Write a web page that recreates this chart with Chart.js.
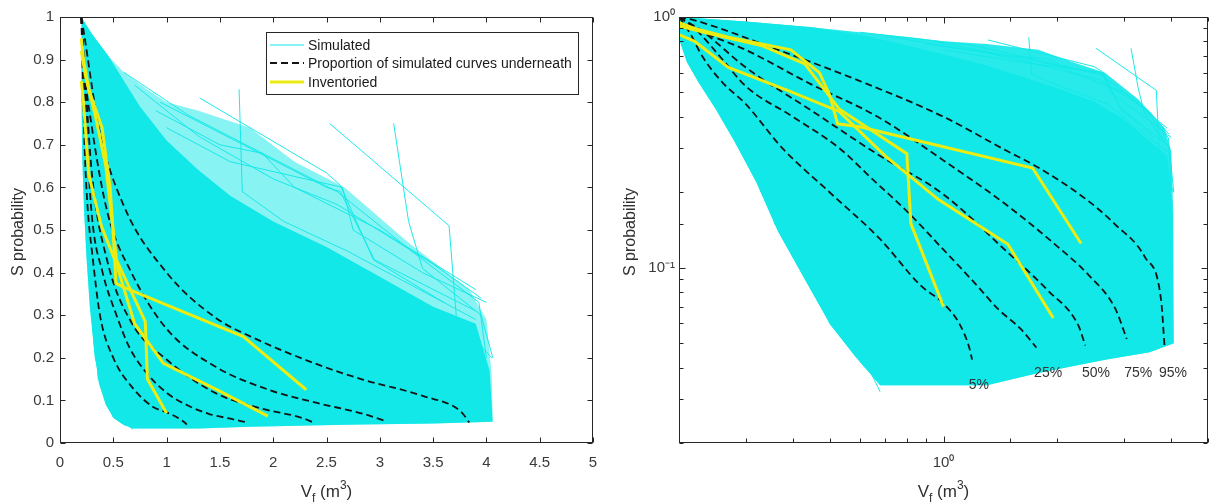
<!DOCTYPE html>
<html><head><meta charset="utf-8">
<script src="https://cdn.jsdelivr.net/npm/chart.js@4.4.0/dist/chart.umd.min.js"></script>
<style>
html,body{margin:0;padding:0;background:#fff;width:1210px;height:504px;overflow:hidden;position:relative}
#c1{position:absolute;left:0;top:0;width:620px;height:504px}
#c2{position:absolute;left:620px;top:0;width:599px;height:504px}
</style></head><body>
<canvas id="c1" width="620" height="504"></canvas>
<canvas id="c2" width="599" height="504"></canvas>
<script>
// ---------------- data (x = Vf in m3, y = S probability) ----------------
const envLower = [[0.2,1.0],[0.201,0.80],[0.21,0.66],[0.225,0.55],[0.25,0.43],[0.28,0.32],[0.32,0.22],[0.365,0.14],[0.43,0.09],[0.5,0.06],[0.58,0.045],[0.68,0.034],[1.0,0.034],[1.3,0.034],[1.78,0.038],[2.67,0.043],[3.5,0.046],[4.06,0.05]];
const envOuterTop = [[0.2,1.0],[0.3,0.96],[0.446,0.91],[0.6,0.87],[0.818,0.83],[1.0,0.80],[1.3,0.78],[1.78,0.74],[2.2,0.66],[2.67,0.60],[3.27,0.47],[3.84,0.36],[4.0,0.29],[4.05,0.16],[4.06,0.05]];
const envCoreTop = [[0.2,1.0],[0.3,0.96],[0.45,0.91],[0.6,0.85],[0.75,0.79],[1.0,0.71],[1.3,0.64],[1.6,0.58],[2.0,0.52],[2.5,0.46],[3.0,0.39],[3.5,0.32],[3.9,0.28],[4.03,0.17],[4.06,0.05]];

const sim1 = [[1.68,0.83],[1.71,0.59],[2.1,0.52],[2.7,0.45],[3.9,0.29]];
const sim2 = [[2.53,0.75],[3.65,0.51],[3.72,0.29],[4.05,0.2]];
const sim3 = [[3.13,0.75],[3.27,0.52],[3.4,0.41],[3.95,0.3],[4.06,0.2]];
const sim4 = [[0.94,0.80],[2.5,0.60],[2.63,0.59],[2.95,0.43],[3.9,0.31]];
const sim5 = [[1.31,0.81],[2.5,0.634],[2.63,0.605],[2.94,0.43],[3.6,0.33]];
const sim6 = [[0.6,0.87],[1.2,0.77],[2.6,0.59],[3.3,0.45],[3.93,0.33],[4.0,0.2]];
const sim7 = [[0.30,0.575],[0.358,0.149],[0.41,0.145],[0.446,0.103],[0.516,0.076],[0.68,0.032]];
const sim8 = [[0.25,0.6],[0.30,0.3],[0.33,0.2],[0.40,0.13],[0.45,0.1],[0.5,0.06],[0.62,0.04]];
const sim9 = [[0.7,0.84],[1.3,0.72],[2.0,0.62],[2.6,0.56],[3.5,0.42],[3.95,0.34]];
const sim10 = [[0.9,0.78],[1.5,0.70],[1.9,0.68],[2.2,0.60],[3.0,0.50],[3.9,0.36]];
const sim11 = [[1.0,0.74],[1.6,0.66],[2.65,0.60],[2.75,0.50],[3.4,0.40],[4.0,0.33]];
const simLines = [sim1,sim2,sim3,sim4,sim5,sim6,sim7,sim8,sim9,sim10,sim11];

const quantileLabels = ['5%','25%','50%','75%','95%'];
const q05 = [[0.2,1.0],[0.215,0.85],[0.23,0.7],[0.26,0.55],[0.30,0.45],[0.375,0.30],[0.5,0.20],[0.68,0.13],[0.87,0.085],[1.0,0.072],[1.1,0.06],[1.17,0.048],[1.19,0.043]];
const q25 = [[0.2,1.0],[0.22,0.9],[0.26,0.68],[0.30,0.53],[0.40,0.40],[0.53,0.30],[0.65,0.225],[0.81,0.165],[1.0,0.118],[1.2,0.088],[1.4,0.068],[1.6,0.057],[1.76,0.048]];
const q50 = [[0.2,1.0],[0.23,0.88],[0.30,0.63],[0.446,0.425],[0.67,0.283],[1.0,0.196],[1.46,0.117],[1.89,0.081],[2.27,0.059],[2.37,0.049]];
const q75 = [[0.2,1.0],[0.225,0.89],[0.30,0.74],[0.446,0.54],[0.67,0.40],[1.0,0.268],[1.46,0.179],[1.97,0.124],[2.41,0.094],[2.84,0.069],[3.05,0.052]];
const q95 = [[0.2,1.0],[0.22,0.97],[0.365,0.74],[0.593,0.56],[1.0,0.40],[1.46,0.294],[1.78,0.251],[2.41,0.185],[2.84,0.149],[3.41,0.11],[3.76,0.074],[3.84,0.048]];
const quantiles = [q05,q25,q50,q75,q95];
// anchor (data coords) of the percentage labels on the log plot
const quantileLabelX = [1.24,1.89,2.53,3.27,4.04];
const quantileLabelY = [0.034,0.038,0.038,0.038,0.038];

const inv1 = [[0.2,0.95],[0.22,0.90],[0.27,0.83],[0.395,0.74],[0.47,0.60],[0.50,0.49],[0.525,0.375],[0.6,0.365],[1.72,0.25],[2.31,0.125]];
const inv2 = [[0.2,0.85],[0.22,0.80],[0.27,0.63],[0.387,0.51],[0.53,0.42],[0.70,0.28],[0.97,0.187],[1.48,0.124],[1.95,0.063]];
const inv3 = [[0.2,0.92],[0.24,0.86],[0.33,0.77],[0.43,0.65],[0.53,0.43],[0.80,0.285],[0.82,0.15],[1.0,0.07]];
const inventoried = [inv1,inv2,inv3];

const linTicksX = [0,0.5,1,1.5,2,2.5,3,3.5,4,4.5,5];
const legendLabels = ['Simulated','Proportion of simulated curves underneath','Inventoried'];

// ---------------- styles ----------------
const CYAN = 'rgb(18,232,232)';
const YELLOW = '#ecec12';
const DARK = '#262626';
const FONT = '"Liberation Sans", Arial, sans-serif';

const pts = a => a.map(p => ({x:p[0], y:p[1]}));

function makeDatasets(isLog){
  const ds = [];
  ds.push({data:pts(envLower), borderWidth:0, borderColor:'rgba(0,0,0,0)', pointRadius:0, fill:false, order:20});
  ds.push({data:pts(envOuterTop), borderWidth:0, borderColor:'rgba(0,0,0,0)', pointRadius:0, fill:0,
           backgroundColor: isLog ? 'rgba(18,232,232,0.9)' : 'rgba(18,232,232,0.5)', order:19});
  ds.push({data:pts(envCoreTop), borderWidth:0, borderColor:'rgba(0,0,0,0)', pointRadius:0, fill:0,
           backgroundColor: CYAN, order:18});
  simLines.forEach(s => ds.push({data:pts(s), borderColor:'rgba(18,232,232,0.95)', borderWidth:1, pointRadius:0, fill:false, order:10}));
  quantiles.forEach(q => ds.push({data:pts(q), borderColor:'#141414', borderWidth:1.8, borderDash:[7,4], pointRadius:0, fill:false,
           cubicInterpolationMode:'monotone', order:5}));
  inventoried.forEach(v => ds.push({data:pts(v), borderColor:YELLOW, borderWidth:3, pointRadius:0, fill:false, order:1}));
  return ds;
}

const SUP = {'0':'⁰','1':'¹','2':'²','-':'⁻'};
function logLabel(v){
  const l = Math.log10(v), r = Math.round(l);
  if (Math.abs(l - r) > 1e-9) return '';
  return '10' + String(r).split('').map(c => SUP[c]).join('');
}

function drawVf(ctx, cx, base){
  const parts = [['V',17,0],['f',12,5],[' (m',17,0],['3',12,-8],[')',17,0]];
  let w = 0;
  parts.forEach(p => { ctx.font = p[1]+'px '+FONT; w += ctx.measureText(p[0]).width; });
  let x = cx - w/2;
  ctx.textAlign = 'left'; ctx.textBaseline = 'alphabetic';
  parts.forEach(p => { ctx.font = p[1]+'px '+FONT; ctx.fillText(p[0], x, base + p[2]); x += ctx.measureText(p[0]).width; });
}

function framePlugin(isLog){
  return {
    id:'frame'+(isLog?'L':'N'),
    afterDraw(chart){
      const {ctx, chartArea:a, scales:{x, y}} = chart;
      ctx.save();
      ctx.strokeStyle = DARK; ctx.lineWidth = 1;
      const L = Math.round(a.left)+0.5, R = Math.round(a.right)-0.5, T = Math.round(a.top)+0.5, B = Math.round(a.bottom)-0.5;
      ctx.beginPath();
      x.ticks.forEach(t => {
        const p = Math.round(x.getPixelForValue(t.value))+0.5;
        const len = isLog ? (t.label ? 6 : 4) : 5;
        ctx.moveTo(p, B); ctx.lineTo(p, B-len); ctx.moveTo(p, T); ctx.lineTo(p, T+len);
      });
      y.ticks.forEach(t => {
        const p = Math.round(y.getPixelForValue(t.value))+0.5;
        const len = isLog ? (t.label ? 6 : 4) : 5;
        ctx.moveTo(L, p); ctx.lineTo(L+len, p); ctx.moveTo(R, p); ctx.lineTo(R-len, p);
      });
      ctx.stroke();
      ctx.strokeRect(L, T, R-L, B-T);

      ctx.fillStyle = '#303030';
      ctx.save();
      ctx.translate(isLog ? 11 : 19, 232);
      ctx.rotate(-Math.PI/2);
      ctx.font = '16px '+FONT; ctx.textAlign='center'; ctx.textBaseline='middle';
      ctx.fillText('S probability', 0, 0);
      ctx.restore();
      drawVf(ctx, isLog ? x.getPixelForValue(1) : (a.left+a.right)/2, 497);

      if (isLog){
        ctx.font = '14px '+FONT; ctx.textAlign='center'; ctx.textBaseline='middle'; ctx.fillStyle='#333';
        quantileLabels.forEach((lab,i) => {
          ctx.fillText(lab, x.getPixelForValue(quantileLabelX[i]), y.getPixelForValue(quantileLabelY[i]));
        });
      } else {
        const lx = 266, ly = 32, lw = 312, lh = 62;
        ctx.fillStyle = '#fff'; ctx.fillRect(lx, ly, lw, lh);
        ctx.strokeStyle = DARK; ctx.lineWidth = 1; ctx.strokeRect(lx+0.5, ly+0.5, lw, lh);
        const rows = [ly+13, ly+31, ly+50];
        const styles = [{c:CYAN,w:1.2,d:[]},{c:'#141414',w:1.8,d:[7,4]},{c:YELLOW,w:3,d:[]}];
        ctx.font = '14px '+FONT; ctx.textAlign='left'; ctx.textBaseline='middle';
        rows.forEach((ry,i) => {
          ctx.beginPath(); ctx.strokeStyle = styles[i].c; ctx.lineWidth = styles[i].w; ctx.setLineDash(styles[i].d);
          ctx.moveTo(lx+4, ry); ctx.lineTo(lx+38, ry); ctx.stroke(); ctx.setLineDash([]);
          ctx.fillStyle = '#1a1a1a'; ctx.fillText(legendLabels[i], lx+42, ry+1);
        });
      }
      ctx.restore();
    }
  };
}

const tickFont = {family: FONT, size: 15};
const tickColor = '#3a3a3a';
const noGrid = {display:false, drawTicks:false, tickLength:0};

new Chart(document.getElementById('c1'), {
  type:'line',
  data:{datasets: makeDatasets(false)},
  options:{
    responsive:false, animation:false, devicePixelRatio:1,
    layout:{padding:{left:0, right:27, top:17, bottom:0}},
    plugins:{legend:{display:false}, tooltip:{enabled:false}},
    scales:{
      x:{type:'linear', min:0, max:5, afterBuildTicks: s => { s.ticks = linTicksX.map(v => ({value:v})); },
         ticks:{color:tickColor, font:tickFont, padding:11, maxRotation:0, autoSkip:false,
                callback: v => String(+v.toFixed(2))},
         grid:noGrid, border:{display:false}, afterFit: s => { s.height = 61; }},
      y:{type:'linear', min:0, max:1, ticks:{stepSize:0.1, color:tickColor, font:tickFont, padding:6, autoSkip:false,
                callback: v => String(+v.toFixed(2))},
         grid:noGrid, border:{display:false}, afterFit: s => { s.width = 60; }}
    }
  },
  plugins:[framePlugin(false)]
});

new Chart(document.getElementById('c2'), {
  type:'line',
  data:{datasets: makeDatasets(true)},
  options:{
    responsive:false, animation:false, devicePixelRatio:1,
    layout:{padding:{left:0, right:0, top:17, bottom:0}},
    plugins:{legend:{display:false}, tooltip:{enabled:false}},
    scales:{
      x:{type:'logarithmic', min:0.2, max:5,
         ticks:{color:tickColor, font:tickFont, padding:11, maxRotation:0, autoSkip:false, callback: v => logLabel(v)},
         grid:noGrid, border:{display:false}, afterFit: s => { s.height = 61; }},
      y:{type:'logarithmic', min:0.02, max:1,
         ticks:{color:tickColor, font:tickFont, padding:4, autoSkip:false, callback: v => logLabel(v)},
         grid:noGrid, border:{display:false}, afterFit: s => { s.width = 59; }}
    }
  },
  plugins:[framePlugin(true)]
});
</script>
</body></html>
